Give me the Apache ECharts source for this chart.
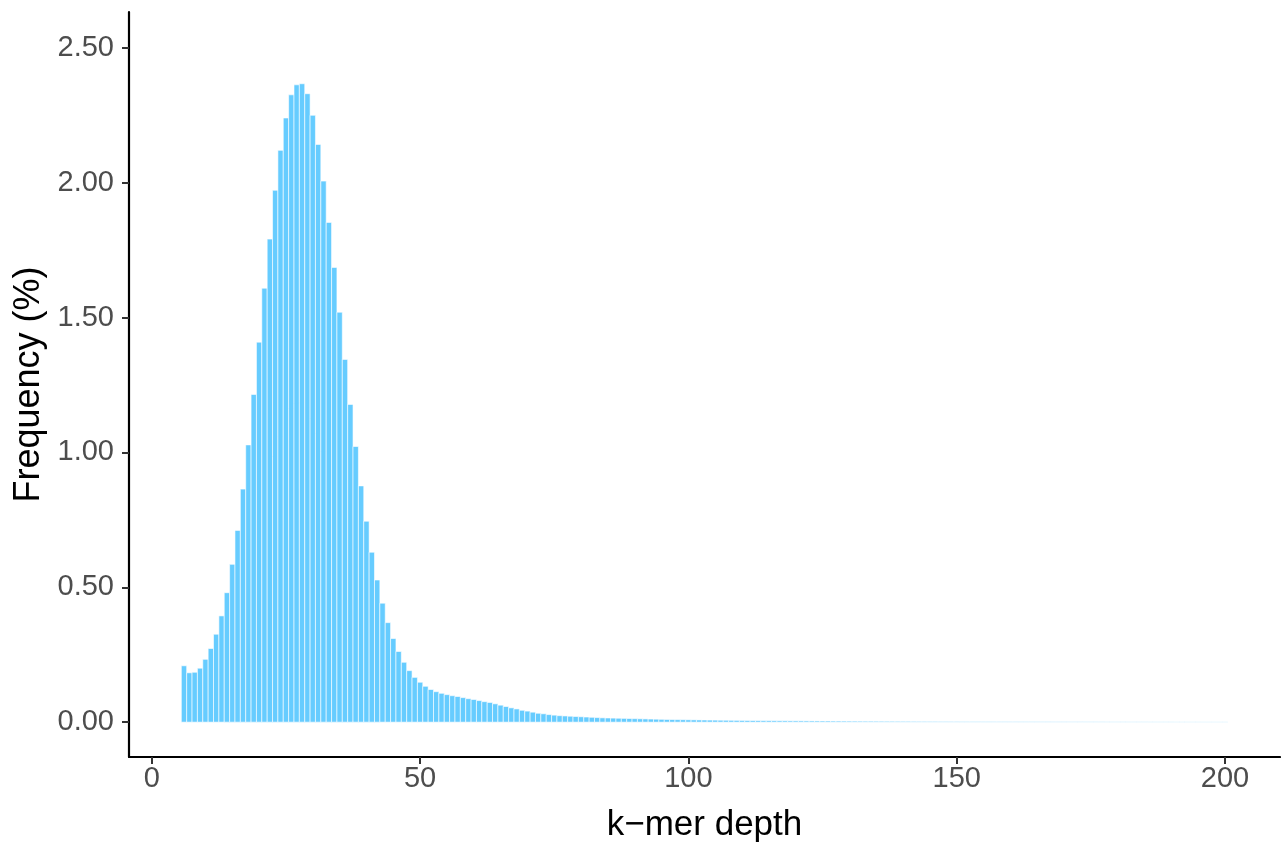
<!DOCTYPE html>
<html>
<head>
<meta charset="utf-8">
<script src="https://cdn.jsdelivr.net/npm/echarts@6/dist/echarts.min.js"></script>
<style>
html,body{margin:0;padding:0;background:#fff;overflow:hidden;}
#chart{width:1281px;height:848px;}
</style>
</head>
<body>
<div id="chart"></div>
<script>
// k-mer depth (categories)
const depths = [
  6,7,8,9,10,11,12,13,14,15,16,17,18,19,20,21,22,23,24,25,26,27,28,29,30,
  31,32,33,34,35,36,37,38,39,40,41,42,43,44,45,46,47,48,49,50,51,52,53,54,55,
  56,57,58,59,60,61,62,63,64,65,66,67,68,69,70,71,72,73,74,75,76,77,78,79,80,
  81,82,83,84,85,86,87,88,89,90,91,92,93,94,95,96,97,98,99,100,101,102,103,104,105,
  106,107,108,109,110,111,112,113,114,115,116,117,118,119,120,121,122,123,124,125,126,127,128,129,130,
  131,132,133,134,135,136,137,138,139,140,141,142,143,144,145,146,147,148,149,150,151,152,153,154,155,
  156,157,158,159,160,161,162,163,164,165,166,167,168,169,170,171,172,173,174,175,176,177,178,179,180,
  181,182,183,184,185,186,187,188,189,190,191,192,193,194,195,196,197,198,199,200
];
// Frequency (%) per depth
const freqRise = [0.209,0.183,0.185,0.200,0.233,0.273,0.326,0.394,0.480,0.585,0.711,0.864,1.028,
  1.215,1.409,1.609,1.791,1.972,2.120,2.240,2.326,2.363];              // 6-27
const freqFall = [2.367,2.330,2.250,2.142,2.006,1.853,1.686,1.520,1.345,
  1.178,1.022,0.876,0.745,0.630,0.527,0.441,0.369,0.310,0.262,0.222,0.191,0.166]; // 28-49
const freqShoulder = [0.148,0.133,0.121,0.113,0.107,0.102,0.098,0.095,0.091,0.087,0.084,0.080,0.076,
  0.073,0.068,0.063,0.058,0.053,0.049,0.044,0.041,0.037,0.033,0.031,0.028,0.026,0.024]; // 50-76
const freqTail1 = [0.023,0.022,0.021,0.020,0.019,0.018,0.017,0.016,0.0155,0.015,0.0145,0.014,0.0135,
  0.013,0.0125,0.012,0.0115,0.011,0.0105,0.010,0.0097,0.0094,0.0091,0.0088];      // 77-100
const freqTail2 = [0.0085,0.0082,0.0079,0.0077,0.0075,0.0072,0.0070,0.0068,0.0066,0.0064,0.0062,0.0060,
  0.0058,0.0057,0.0055,0.0054,0.0052,0.0051,0.0049,0.0048,0.0047,0.0046,0.0045,0.0044,0.0043]; // 101-125
const freqTail3 = [0.0042,0.0041,0.0040,0.0039,0.0038,0.0037,0.0036,0.0035,0.0035,0.0034,0.0033,0.0032,
  0.0032,0.0031,0.0030,0.0030,0.0029,0.0028,0.0028,0.0027,0.0027,0.0026,0.0026,0.0025,0.0025]; // 126-150
const freqTail4 = [0.0024,0.0024,0.0023,0.0023,0.0022,0.0022,0.0021,0.0021,0.0021,0.0020,0.0020,0.0019,
  0.0019,0.0019,0.0018,0.0018,0.0018,0.0017,0.0017,0.0017,0.0016,0.0016,0.0016,0.0015,0.0015]; // 151-175
const freqTail5 = [0.0015,0.0015,0.0014,0.0014,0.0014,0.0014,0.0013,0.0013,0.0013,0.0013,0.0012,0.0012,
  0.0012,0.0012,0.0012,0.0011,0.0011,0.0011,0.0011,0.0011,0.0010,0.0010,0.0010,0.0010,0.0010]; // 176-200
const frequency = [].concat(freqRise, freqFall, freqShoulder, freqTail1, freqTail2, freqTail3, freqTail4, freqTail5);

const xTicks = [0, 50, 100, 150, 200];
const yTicks = [0, 0.5, 1.0, 1.5, 2.0, 2.5];

const data = depths.map((d, i) => [d, frequency[i]]);

const chart = echarts.init(document.getElementById('chart'), null, {renderer: 'canvas', width: 1281, height: 848});
const FONT = 'Liberation Sans';
chart.setOption({
  animation: false,
  backgroundColor: '#ffffff',
  grid: {left: 129, top: 12, width: 1151, height: 752, containLabel: false},
  xAxis: {
    type: 'value',
    min: -4.25, max: 210.25,
    splitLine: {show: false},
    axisLine: {show: true, onZero: false, lineStyle: {color: '#000', width: 2.2}},
    axisTick: {show: true, customValues: xTicks, length: 7, lineStyle: {color: '#333', width: 2}},
    axisLabel: {customValues: xTicks, color: '#4d4d4d', fontSize: 29, fontFamily: FONT, margin: 7},
    name: 'k\u2212mer depth',
    nameLocation: 'middle',
    nameGap: 51,
    nameTextStyle: {color: '#000', fontSize: 35, fontFamily: FONT}
  },
  yAxis: {
    type: 'value',
    min: -0.1292, max: 2.633,
    splitLine: {show: false},
    axisLine: {show: true, onZero: false, lineStyle: {color: '#000', width: 2.2}},
    axisTick: {show: true, customValues: yTicks, length: 7, lineStyle: {color: '#333', width: 2}},
    axisLabel: {customValues: yTicks, color: '#4d4d4d', fontSize: 29, fontFamily: FONT, margin: 15,
      formatter: v => Number(v).toFixed(2)},
    name: 'Frequency (%)',
    nameLocation: 'middle',
    nameGap: 81,
    nameRotate: 90,
    nameTextStyle: {color: '#000', fontSize: 36, fontFamily: FONT}
  },
  series: [{
    type: 'custom',
    data: data,
    renderItem: function (params, api) {
      const d = api.value(0), v = api.value(1);
      const p1 = api.coord([d - 0.5, v]);
      const p2 = api.coord([d + 0.5, 0]);
      return {
        type: 'rect',
        shape: {x: p1[0], y: p1[1], width: p2[0] - p1[0], height: p2[1] - p1[1]},
        style: {fill: '#66CCFF', stroke: 'rgba(255,255,255,0.85)', lineWidth: 0.7}
      };
    }
  }]
});
</script>
</body>
</html>
